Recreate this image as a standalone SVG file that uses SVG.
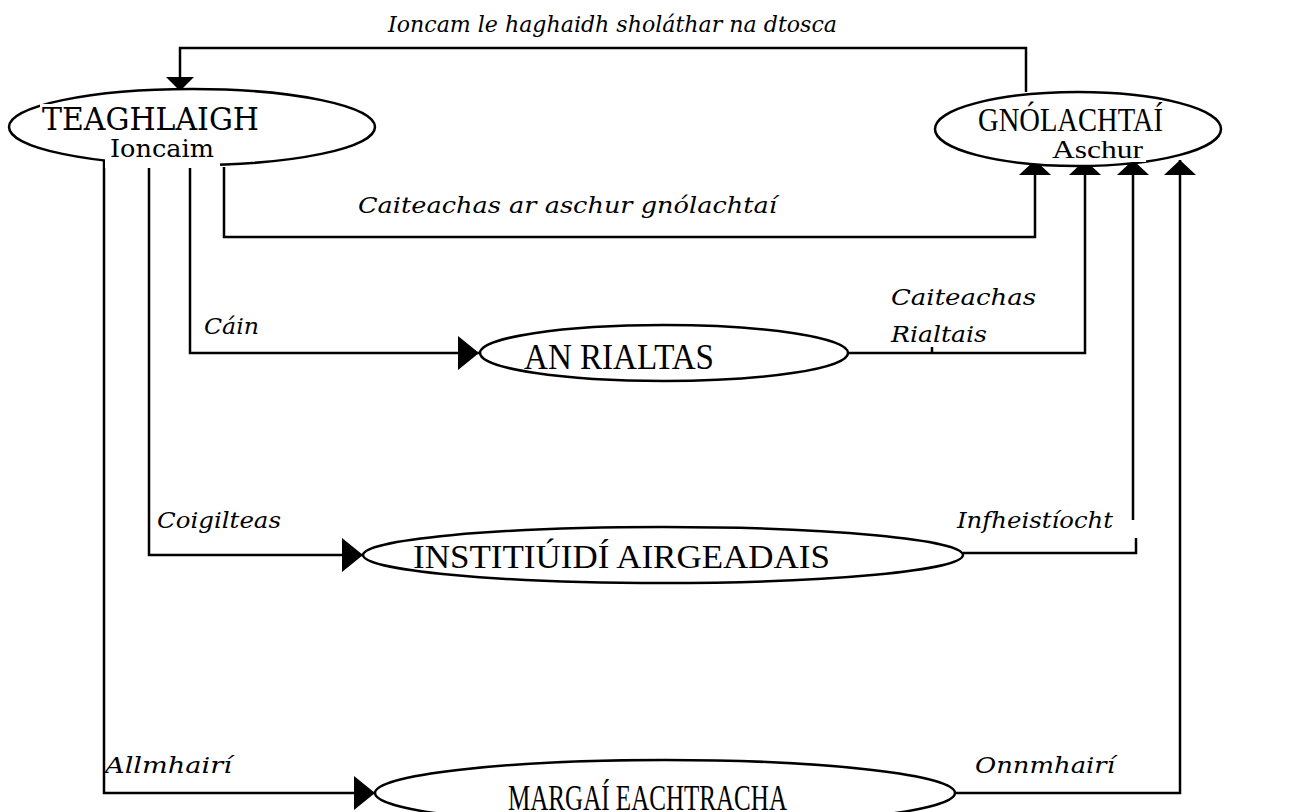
<svg xmlns="http://www.w3.org/2000/svg" width="1304" height="812" viewBox="0 0 1304 812">
<defs>
<marker id="ah" viewBox="0 0 21 34" refX="21" refY="17" markerWidth="21" markerHeight="34" markerUnits="userSpaceOnUse" orient="auto">
<path d="M0,0 L21,17 L0,34 z" fill="#000"/>
</marker>
<marker id="ahu" viewBox="0 0 15 32" refX="15" refY="16" markerWidth="15" markerHeight="32" markerUnits="userSpaceOnUse" orient="auto">
<path d="M0,0 L15,16 L0,32 z" fill="#000"/>
</marker>
<marker id="ahs" viewBox="0 0 14 28" refX="14" refY="14" markerWidth="14" markerHeight="28" markerUnits="userSpaceOnUse" orient="auto">
<path d="M0,0 L14,14 L0,28 z" fill="#000"/>
</marker>
</defs>
<style>
.node ellipse{fill:#fff;stroke:#000;stroke-width:2.5}
.t{font-family:"Liberation Serif","Times New Roman",serif;fill:#000}
.d{font-family:"DejaVu Serif",serif;fill:#000}
.lbl{font-family:"DejaVu Serif",serif;font-style:italic;font-size:23px;fill:#000}
.c{fill:none;stroke:#000;stroke-width:2.5}
.bg{fill:#fff}
</style>
<rect width="1304" height="812" fill="#fff"/>

<g id="connectors">
<path class="c" d="M1026,92 V48 H180 V91" marker-end="url(#ahs)"/>
<path class="c" d="M224,167 V237 H1035 V160" marker-end="url(#ahu)"/>
<path class="c" d="M190,167 V353 H479" marker-end="url(#ah)"/>
<path class="c" d="M848,353 H1085 V160" marker-end="url(#ahu)"/>
<path class="c" d="M932,347 V353"/>
<path class="c" d="M149,167 V555 H363" marker-end="url(#ah)"/>
<path class="c" d="M963,553 H1136 V538"/>
<path class="c" d="M1133,520 V160" marker-end="url(#ahu)"/>
<path class="c" d="M104,161 V793 H375" marker-end="url(#ah)"/>
<path class="c" d="M955,793 H1180 V160" marker-end="url(#ahu)"/>
</g>

<g id="labels">
<text class="lbl" x="388" y="32" textLength="449" lengthAdjust="spacingAndGlyphs">Ioncam le haghaidh sholáthar na dtosca</text>
<text class="lbl" x="358" y="213" textLength="419" lengthAdjust="spacingAndGlyphs">Caiteachas ar aschur gnólachtaí</text>
<text class="lbl" x="204" y="334" textLength="55" lengthAdjust="spacingAndGlyphs">Cáin</text>
<text class="lbl" x="891" y="305" textLength="145" lengthAdjust="spacingAndGlyphs">Caiteachas</text>
<text class="lbl" x="891" y="342" textLength="96" lengthAdjust="spacingAndGlyphs">Rialtais</text>
<text class="lbl" x="157" y="528" textLength="124" lengthAdjust="spacingAndGlyphs">Coigilteas</text>
<text class="lbl" x="957" y="528" textLength="156" lengthAdjust="spacingAndGlyphs">Infheistíocht</text>
<text class="lbl" x="105" y="773" textLength="127" lengthAdjust="spacingAndGlyphs">Allmhairí</text>
<text class="lbl" x="975" y="773" textLength="140" lengthAdjust="spacingAndGlyphs">Onnmhairí</text>
</g>

<g id="teaghlaigh" class="node">
<ellipse cx="192" cy="127" rx="183" ry="38"/>
<rect class="bg" x="40" y="104" width="222" height="30"/>
<rect class="bg" x="105" y="140" width="115" height="28"/>
<text class="d" x="42" y="130" font-size="31" textLength="217" lengthAdjust="spacingAndGlyphs">TEAGHLAIGH</text>
<text class="d" x="110" y="157" font-size="24" textLength="104" lengthAdjust="spacingAndGlyphs">Ioncaim</text>
</g>

<g id="gnolachtai" class="node">
<ellipse cx="1078" cy="129" rx="143" ry="37"/>
<rect class="bg" x="1050" y="142" width="96" height="20"/>
<text class="t" x="978" y="131" font-size="34" textLength="185" lengthAdjust="spacingAndGlyphs">GNÓLACHTAÍ</text>
<text class="t" x="1052" y="158" font-size="25" textLength="91" lengthAdjust="spacingAndGlyphs">Aschur</text>
</g>

<g id="rialtas" class="node">
<ellipse cx="664" cy="353" rx="184" ry="28"/>
<text class="t" x="524" y="369" font-size="35" textLength="190" lengthAdjust="spacingAndGlyphs">AN RIALTAS</text>
</g>

<g id="institiuidi" class="node">
<ellipse cx="663" cy="555" rx="300" ry="28"/>
<text class="t" x="413" y="568" font-size="34" textLength="417" lengthAdjust="spacingAndGlyphs">INSTITIÚIDÍ AIRGEADAIS</text>
</g>

<g id="margai" class="node">
<ellipse cx="665" cy="793" rx="290" ry="33"/>
<rect class="bg" x="500" y="782" width="292" height="30"/>
<text class="t" x="508" y="810" font-size="35" textLength="279" lengthAdjust="spacingAndGlyphs">MARGAÍ EACHTRACHA</text>
</g>
</svg>
